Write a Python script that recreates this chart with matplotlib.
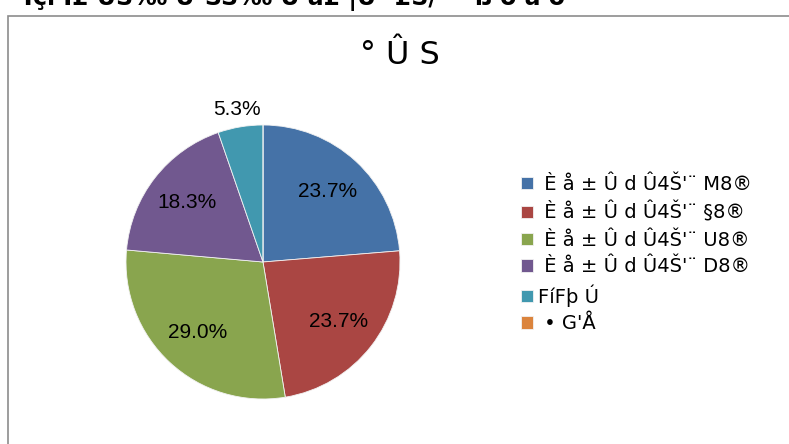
import matplotlib
matplotlib.use("Agg")
import matplotlib.pyplot as plt
from matplotlib.patches import Rectangle

# Data
labels = [" È å ± Û d Û4Š'¨ M8®", " È å ± Û d Û4Š'¨ §8®", " È å ± Û d Û4Š'¨ U8®",
          " È å ± Û d Û4Š'¨ D8®", "FíFþ Ú", " • G'Å"]
values = [23.7, 23.7, 29.0, 18.3, 5.3, 0.0]
colors = ["#4572A7", "#AA4643", "#89A54E", "#71588F", "#4198AF", "#DB843D"]
title = "° Û S"
header = "Tçi Ì£ ÜS‰ Ù¹SS‰ Ü a£ |Ü ¹£S/¹ ¹·ß ö ä ö·"

W, H = 789, 444
plt.rcParams['font.family'] = ['Liberation Sans', 'DejaVu Sans']

fig = plt.figure(figsize=(W / 100, H / 100), dpi=100)

# chart area border (runs off the right/bottom of the image)
fig.patches.append(Rectangle((8 / W, -0.2), 1.2, 1.2 - 16 / H, transform=fig.transFigure,
                             fill=False, edgecolor="#8c8c8c", linewidth=1.2))

# header text, cut off by the top edge as in the source
fig.text(20 / W, 1 + 4 / H, header, fontsize=17, fontweight="bold", va="center", ha="left",
         family=["DejaVu Sans"])

fig.text(400 / W, 1 - 56 / H, title, fontsize=23, ha="center", va="center",
         family=["DejaVu Sans"])

cx, cy, r = 263, 262, 137
ax = fig.add_axes([(cx - r) / W, (H - cy - r) / H, 2 * r / W, 2 * r / H])

def fmt(p):
    return "%.1f%%" % p if p > 0 else ""

wedges, texts, autotexts = ax.pie(values, colors=colors, startangle=90, counterclock=False,
                                  autopct=fmt, pctdistance=0.7,
                                  wedgeprops=dict(edgecolor="#f2f2f2", linewidth=0.6),
                                  textprops=dict(fontsize=15))
# small slice label goes outside
x, y = autotexts[4].get_position()
autotexts[4].set_position((x * 1.13 / 0.7, y * 1.13 / 0.7))
ax.set_xlim(-1, 1)
ax.set_ylim(-1, 1)

fig.legend(wedges, labels, loc="upper left", bbox_to_anchor=(521 / W, 1 - 175 / H),
           frameon=False, prop=dict(family="DejaVu Sans", size=14),
           handlelength=0.6, handleheight=0.6, handletextpad=0.3,
           labelspacing=0.4, borderpad=0, borderaxespad=0)

fig.savefig("out.png", dpi=100)
